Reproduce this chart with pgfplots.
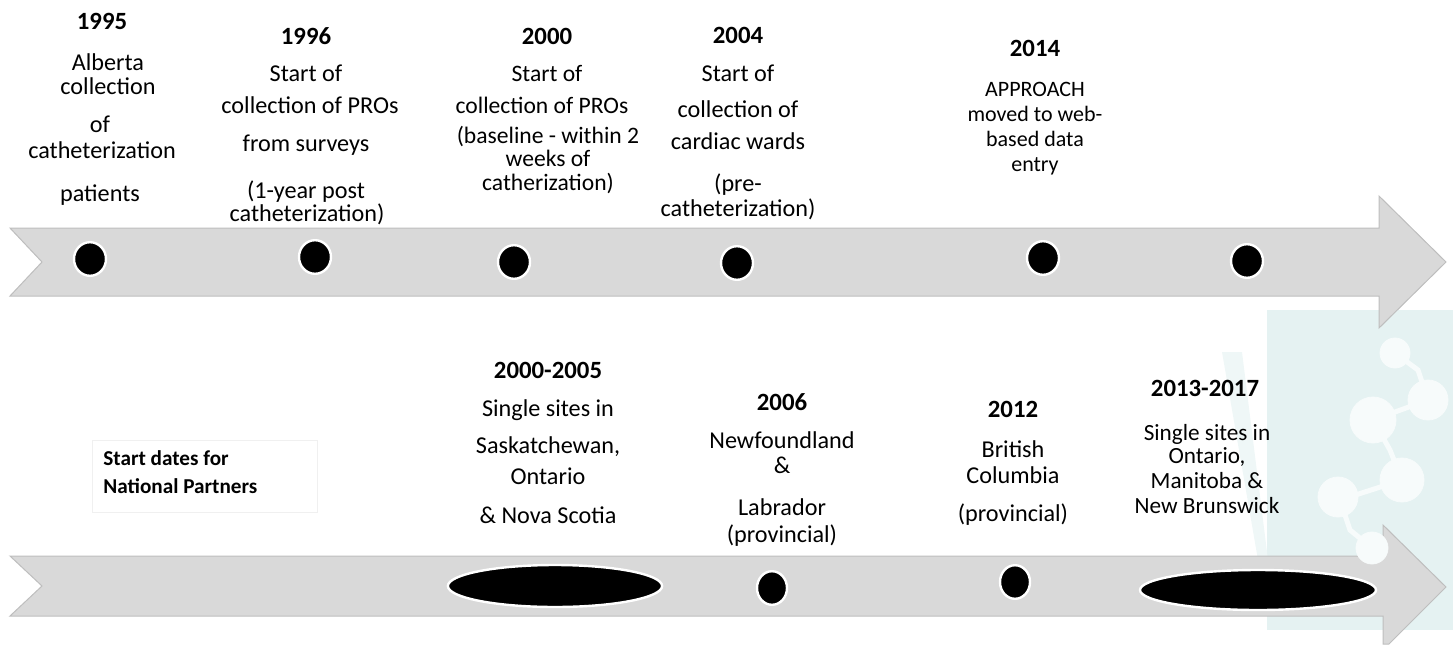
\documentclass[border=0pt]{standalone}
\usepackage{fontspec}
\setmainfont{Carlito}
\usepackage{pgfplots}
\pgfplotsset{compat=1.18}
\definecolor{arrowfill}{RGB}{217,217,217}
\definecolor{arrowdraw}{RGB}{190,190,190}
\definecolor{tealbg}{RGB}{229,242,242}
\definecolor{teallt}{RGB}{239,247,247}
\definecolor{molc}{RGB}{247,251,251}
\newcommand{\fs}[1]{\fontsize{#1}{#1}\selectfont}
\tikzset{
  tl/.style={anchor=center, inner sep=0pt, text height=0.68em, text depth=0.2em},
  yr/.style={tl, font=\fs{12.4}\bfseries},
  b1/.style={tl, font=\fs{12.1}},
  b2/.style={tl, font=\fs{11.8}},
  b3/.style={tl, font=\fs{11}},
  b4/.style={tl, font=\fs{11.6}},
}
\begin{document}
\begin{tikzpicture}
\begin{axis}[name=ax, scale only axis, width=726.5pt, height=322pt,
  xmin=0, xmax=1453, ymin=0, ymax=644, y dir=reverse,
  hide axis, clip=false]
% background decoration
\addplot[fill=tealbg, draw=none] coordinates {(1267,310) (1453,310) (1453,630) (1267,630)} -- cycle;
\addplot[fill=teallt, draw=none] coordinates {(1222,352) (1242,352) (1268,560) (1258,560)} -- cycle;
\addplot[molc, line width=2.5pt] coordinates {(1395,353) (1418,370) (1428,400)};
\addplot[molc, line width=2.5pt] coordinates {(1428,400) (1373,420)};
\addplot[molc, line width=2.5pt] coordinates {(1373,420) (1390,450) (1402,480)};
\addplot[molc, line width=2.5pt] coordinates {(1402,480) (1340,500)};
\addplot[molc, line width=2.5pt] coordinates {(1340,500) (1350,530) (1372,548)};
\addplot[only marks, mark=*, mark size=7.5pt, color=molc] coordinates {(1395,353)};
\addplot[only marks, mark=*, mark size=10pt, color=molc] coordinates {(1428,400)};
\addplot[only marks, mark=*, mark size=11.5pt, color=molc] coordinates {(1373,420)};
\addplot[only marks, mark=*, mark size=11pt, color=molc] coordinates {(1402,480)};
\addplot[only marks, mark=*, mark size=10pt, color=molc] coordinates {(1338,497)};
\addplot[only marks, mark=*, mark size=8pt, color=molc] coordinates {(1372,548)};
% arrows
\addplot[fill=arrowfill, draw=arrowdraw, line width=0.5pt] coordinates {
  (10,228) (1379,228) (1379,196) (1446,262) (1379,328) (1379,296) (10,296) (42,262)} -- cycle;
\addplot[fill=arrowfill, draw=arrowdraw, line width=0.5pt] coordinates {
  (10,556) (1383,556) (1383,525) (1446,587) (1389,644) (1383,644) (1383,616) (10,616) (42,586)} -- cycle;
% top dots
\addplot[only marks, mark=*, mark size=8pt, mark options={fill=black, draw=white, line width=1.2pt, yscale=1.05}]
  coordinates {(90,259) (315,257) (514,262) (737,263) (1043,258) (1247,261)};
% bottom dots
\addplot[only marks, mark=*, mark size=10.5pt, mark options={fill=black, draw=white, line width=1.2pt, xscale=5.1}]
  coordinates {(555,586)};
\addplot[only marks, mark=*, mark size=7.5pt, mark options={fill=black, draw=white, line width=1.2pt, yscale=1.12}]
  coordinates {(772,588) (1015,582)};
\addplot[only marks, mark=*, mark size=10pt, mark options={fill=black, draw=white, line width=1.2pt, xscale=5.9}]
  coordinates {(1258,590)};
% top texts
\node[yr] at (axis cs:102,25) {1995};
\node[b1] at (axis cs:108,66) {Alberta};
\node[b1] at (axis cs:108,90) {collection};
\node[b1] at (axis cs:100,128) {of};
\node[b1] at (axis cs:102,154) {catheterization};
\node[b1] at (axis cs:100,197) {patients};
\node[yr] at (axis cs:306,40) {1996};
\node[b1] at (axis cs:306,77) {Start of};
\node[b1] at (axis cs:310,109) {collection of PROs};
\node[b1] at (axis cs:306,147) {from surveys};
\node[b1] at (axis cs:306,194) {(1-year post};
\node[b1] at (axis cs:307,217) {catheterization)};
\node[yr] at (axis cs:547,40) {2000};
\node[b2] at (axis cs:547,77) {Start of};
\node[b2] at (axis cs:542,109) {collection of PROs};
\node[b2] at (axis cs:548,139) {(baseline - within 2};
\node[b2] at (axis cs:548,162) {weeks of};
\node[b2] at (axis cs:548,186) {catherization)};
\node[yr] at (axis cs:738,39) {2004};
\node[b1] at (axis cs:738,77) {Start of};
\node[b1] at (axis cs:738,113) {collection of};
\node[b1] at (axis cs:738,145) {cardiac wards};
\node[b1] at (axis cs:738,187) {(pre-};
\node[b1] at (axis cs:738,212) {catheterization)};
\node[yr] at (axis cs:1035,52) {2014};
\node[b3] at (axis cs:1035,92) {APPROACH};
\node[b3] at (axis cs:1035,117) {moved to web-};
\node[b3] at (axis cs:1035,142) {based data};
\node[b3] at (axis cs:1035,167) {entry};
% bottom texts
\draw[draw={rgb,255:red,240;green,240;blue,240}, fill=white, line width=0.4pt] (axis cs:92,440) rectangle (axis cs:317,512);
\node[tl, anchor=west, font=\fs{10.6}\bfseries] at (axis cs:103,461) {Start dates for};
\node[tl, anchor=west, font=\fs{10.6}\bfseries] at (axis cs:103,489) {National Partners};
\node[yr] at (axis cs:548,374) {2000-2005};
\node[b1] at (axis cs:548,412) {Single sites in};
\node[b1] at (axis cs:548,449) {Saskatchewan,};
\node[b1] at (axis cs:548,480) {Ontario};
\node[b1] at (axis cs:548,519) {\& Nova Scotia};
\node[yr] at (axis cs:782,406) {2006};
\node[b1] at (axis cs:782,444) {Newfoundland};
\node[b1] at (axis cs:782,469) {\&};
\node[b1] at (axis cs:782,511) {Labrador};
\node[b1] at (axis cs:782,538) {(provincial)};
\node[yr] at (axis cs:1013,413) {2012};
\node[b1] at (axis cs:1013,453) {British};
\node[b1] at (axis cs:1013,479) {Columbia};
\node[b1] at (axis cs:1013,517) {(provincial)};
\node[yr] at (axis cs:1205,392) {2013-2017};
\node[b4] at (axis cs:1207,436) {Single sites in};
\node[b4] at (axis cs:1207,459) {Ontario,};
\node[b4] at (axis cs:1207,484) {Manitoba \&};
\node[b4] at (axis cs:1207,509) {New Brunswick};
\end{axis}
\pgfresetboundingbox
\useasboundingbox (ax.south west) rectangle (ax.north east);
\end{tikzpicture}
\end{document}
